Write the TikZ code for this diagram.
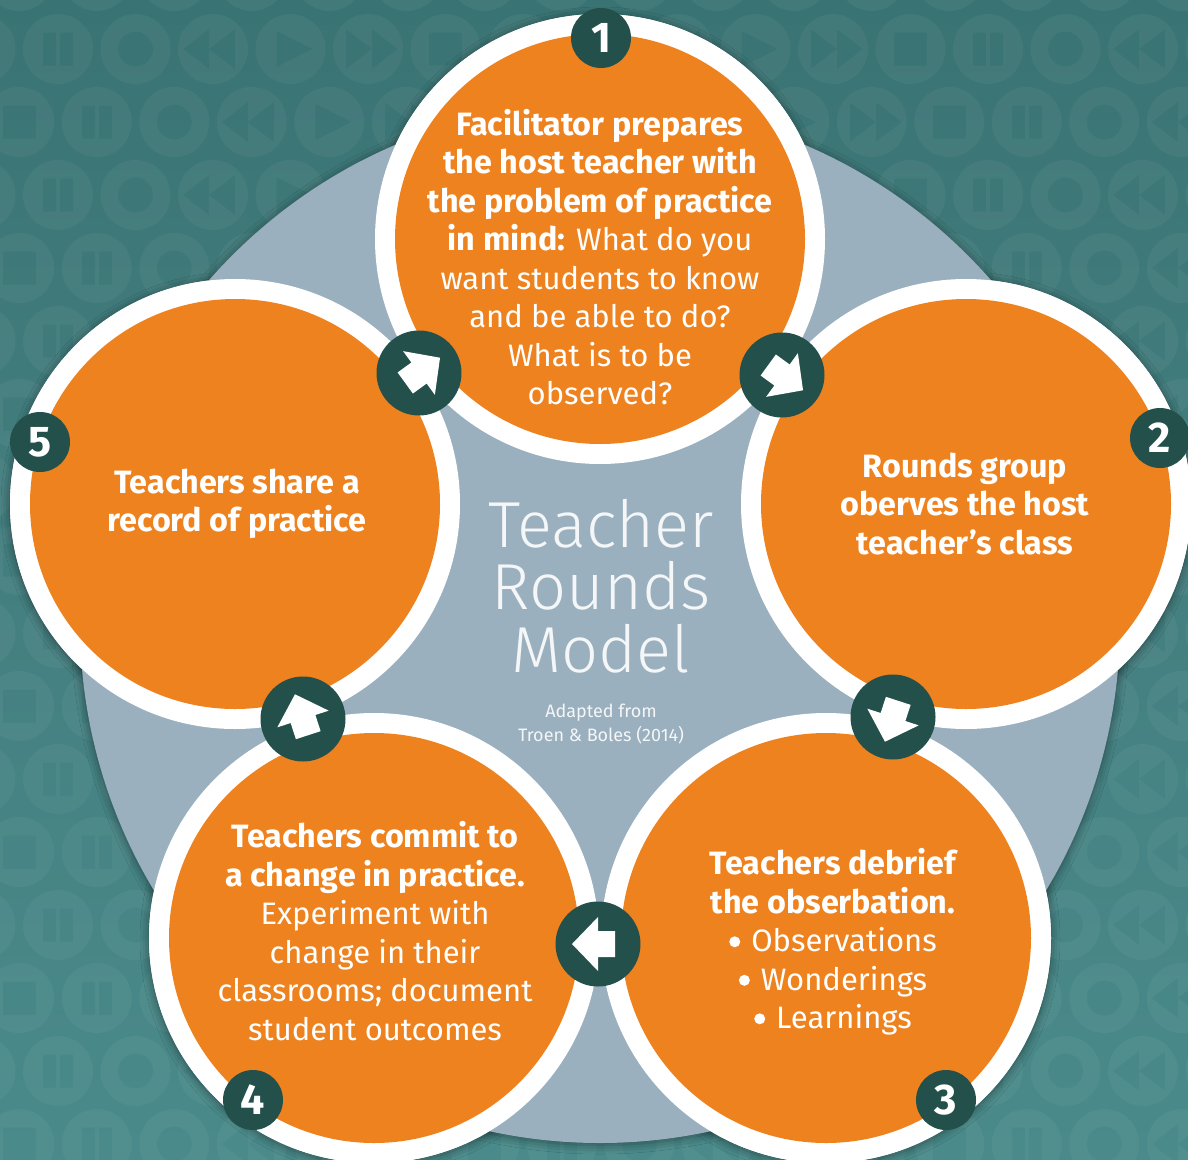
\documentclass[tikz,border=0pt]{standalone}
\usepackage{fontspec}
\setmainfont{Fira Sans}[BoldFont=* Bold]
\newfontfamily\lightfont{Fira Sans}[UprightFont=* Light]
\usetikzlibrary{shadows.blur}
\definecolor{tealtl}{HTML}{3A7373}
\definecolor{tealbl}{HTML}{447F80}
\definecolor{tealbr}{HTML}{4A8A8A}
\definecolor{greyblue}{HTML}{9AB0BF}
\definecolor{orng}{HTML}{EE821E}
\definecolor{dkgreen}{HTML}{24504C}
\definecolor{titlecol}{HTML}{F4F6F7}
\newcommand\bigbullet{\tikz[baseline=0pt, x=1pt, y=1pt]\fill[white] (0,0) circle[radius=0.1pt] (0,10) circle[radius=5.5];\hspace{11pt}}
\newcommand\bt[1]{{\fontsize{32.3}{38.5}\selectfont\bfseries #1}}
\tikzset{
  patfill/.style={fill=white, fill opacity=0.045, even odd rule},
  ringshadow/.style={blur shadow={shadow xshift=0pt, shadow yshift=-2pt, shadow blur radius=9pt, shadow opacity=45}},
  stepnode/.style={text=white, align=center, font=\fontsize{31}{38.5}\selectfont},
  numnode/.style={circle, fill=dkgreen, minimum size=60pt, inner sep=0pt, text=white, font=\bfseries\fontsize{43}{43}\selectfont},
  badge/.style={circle, fill=dkgreen, minimum size=85pt, inner sep=0pt},
  flowarrow/.pic={\fill[white] (26,0) -- (0,27) -- (0,13) -- (-17,13) -- (-17,-13) -- (0,-13) -- (0,-27) -- cycle;}
}
\begin{document}
\begin{tikzpicture}[x=1pt,y=-1pt]
\useasboundingbox (0,0) rectangle (1188,1159);
\begin{scope}[y=1pt]
\shade[top color=tealtl, bottom color=tealbr, middle color=tealbl] (0,-1159) rectangle (1188,0);
\end{scope}
% background pattern of media-control icons
\foreach \j in {-1,...,16}{
  \foreach \i in {-1,...,15}{
    \pgfmathtruncatemacro\odd{mod(\j+2,2)}
    \pgfmathsetmacro\cx{58+77.5*\i-38.75*\odd}
    \pgfmathsetmacro\cy{49+73*\j}
    \pgfmathtruncatemacro\k{2*\i+1-\odd}
    \pgfmathtruncatemacro\p{mod(floor((\k+1)/2)+60,6)}
    \begin{scope}[shift={(\cx,\cy)}]
    \ifcase\p
      \fill[patfill] (0,0) circle[radius=35] (-16.5,-16.5) rectangle (16.5,16.5);
    \or
      \fill[patfill] (0,0) circle[radius=35] (-15,-16.5) rectangle (-2,16.5) (2,-16.5) rectangle (15,16.5);
    \or
      \fill[patfill] (0,0) circle[radius=35] (0,0) circle[radius=17.5];
    \or
      \fill[patfill] (0,0) circle[radius=35] (-30,0) -- (-4,-20) -- (-4,20) -- cycle (-4,0) -- (22,-20) -- (22,20) -- cycle;
    \or
      \fill[patfill] (0,0) circle[radius=35] (22,0) -- (-14,-18) -- (-14,18) -- cycle;
    \else
      \fill[patfill] (0,0) circle[radius=35] (30,0) -- (4,-20) -- (4,20) -- cycle (4,0) -- (-22,-20) -- (-22,20) -- cycle;
    \fi
    \end{scope}
  }
}
% centres
\coordinate (P) at (600,623);
\coordinate (c1) at (600,239);
\coordinate (c2) at (966,504);
\coordinate (c3) at (826,938);
\coordinate (c4) at (374,938);
\coordinate (c5) at (235,504);
% shadows of white rings and grey disc
\foreach \c in {c1,c2,c3,c4,c5} \fill[white, ringshadow] (\c) circle[radius=225];
\fill[greyblue, ringshadow] (P) circle[radius=520];
\foreach \c in {c1,c2,c3,c4,c5} \fill[white] (\c) circle[radius=225];
\foreach \c in {c1,c2,c3,c4,c5} \fill[orng] (\c) circle[radius=205];
% arrow badges
\node[badge] (b12) at (782,375) {};
\node[badge] (b23) at (893,717) {};
\node[badge] (b34) at (598,944) {};
\node[badge] (b45) at (303,719) {};
\node[badge] (b51) at (419,373) {};
\pic[rotate=-36] at (b12) {flowarrow};
\pic[rotate=-108] at (b23) {flowarrow};
\pic[rotate=180] at (b34) {flowarrow};
\pic[rotate=108] at (b45) {flowarrow};
\pic[rotate=36] at (b51) {flowarrow};
% number badges
\node[numnode] (n1) at (601,38) {1};
\node[numnode] (n2) at (1160,438) {2};
\node[numnode] (n3) at (946,1100) {3};
\node[numnode] (n4) at (253,1100) {4};
\node[numnode] (n5) at (40,442) {5};
% texts
\node[stepnode] (t1) at (600,257) {\bt{Facilitator prepares}\\\bt{the host teacher with}\\\bt{the problem of practice}\\\bt{in mind:} What do you\\want students to know\\and be able to do?\\What is to be\\observed?};
\node[stepnode] (t2) at (965,504) {\bt{Rounds group}\\\bt{oberves the host}\\\bt{teacher’s class}};
\node[stepnode] (t3) at (833,942) {\bt{Teachers debrief}\\\bt{the obserbation.}\\\bigbullet Observations\\\bigbullet Wonderings\\\bigbullet Learnings};
\node[stepnode] (t4) at (375,931) {\bt{Teachers commit to}\\\bt{a change in practice.}\\Experiment with\\change in their\\classrooms; document\\student outcomes};
\node[stepnode] (t5) at (237,504) {\bt{Teachers share a}\\\bt{record of practice}};
\node[text=titlecol, align=center, font=\lightfont\fontsize{65}{62.5}\selectfont] (title) at (601,586) {Teacher\\Rounds\\Model};
\node[text=titlecol, align=center, font=\fontsize{18}{23.5}\selectfont] (src) at (601,724) {Adapted from\\Troen \& Boles (2014)};
\end{tikzpicture}
\end{document}
